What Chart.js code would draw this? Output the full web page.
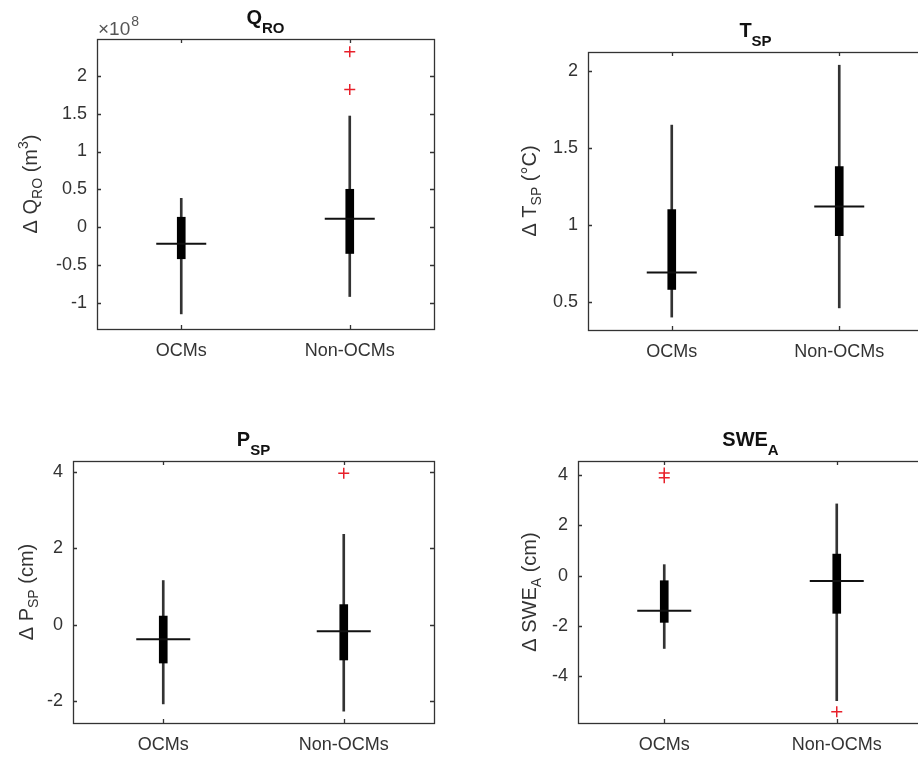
<!DOCTYPE html>
<html>
<head>
<meta charset="utf-8">
<script src="https://cdn.jsdelivr.net/npm/chart.js@4.4.0/dist/chart.umd.min.js"></script>
<style>
  html, body { margin: 0; padding: 0; background: #fff; width: 918px; height: 759px; overflow: hidden; }
  canvas { position: absolute; }
</style>
</head>
<body>
<canvas id="qro" width="459" height="380" style="left:0;top:0"></canvas>
<canvas id="tsp" width="480" height="380" style="left:459px;top:0"></canvas>
<canvas id="psp" width="459" height="379" style="left:0;top:380px"></canvas>
<canvas id="swe" width="480" height="379" style="left:459px;top:380px"></canvas>
<script>
const groups = ['OCMs', 'Non-OCMs'];

// Q_RO change (m^3)
const qroLow = [-1.15e8, -0.92e8];
const qroQ1 = [-0.42e8, -0.35e8];
const qroMedian = [-0.22e8, 0.11e8];
const qroQ3 = [0.13e8, 0.50e8];
const qroHigh = [0.38e8, 1.47e8];
const qroOutliers = [[], [1.82e8, 2.32e8]];
const qroTicks = [-1e8, -0.5e8, 0, 0.5e8, 1e8, 1.5e8, 2e8];

// T_SP change (°C)
const tspLow = [0.40, 0.46];
const tspQ1 = [0.58, 0.93];
const tspMedian = [0.69, 1.12];
const tspQ3 = [1.10, 1.38];
const tspHigh = [1.65, 2.04];
const tspOutliers = [[], []];
const tspTicks = [0.5, 1, 1.5, 2];

// P_SP change (cm)
const pspLow = [-2.07, -2.26];
const pspQ1 = [-1.0, -0.92];
const pspMedian = [-0.38, -0.17];
const pspQ3 = [0.23, 0.53];
const pspHigh = [1.16, 2.37];
const pspOutliers = [[], [3.97]];
const pspTicks = [-2, 0, 2, 4];

// SWE_A change (cm)
const sweLow = [-2.90, -4.98];
const sweQ1 = [-1.86, -1.50];
const sweMedian = [-1.40, -0.21];
const sweQ3 = [-0.20, 0.86];
const sweHigh = [0.44, 2.86];
const sweOutliers = [[4.09, 3.90], [-5.42]];
const sweTicks = [-4, -2, 0, 2, 4];

const FONT = 'Liberation Sans, Arial, Helvetica, sans-serif';
const INK = '#333';

function drawRich(ctx, parts, x, y) {
  let total = 0;
  parts.forEach(function (p) {
    ctx.font = p.font;
    p.w = ctx.measureText(p.text).width;
    total += p.w;
  });
  let cx = x - total / 2;
  ctx.textAlign = 'left';
  ctx.textBaseline = 'alphabetic';
  parts.forEach(function (p) {
    ctx.font = p.font;
    ctx.fillText(p.text, cx, y + (p.dy || 0));
    cx += p.w;
  });
}

const panelFrame = {
  id: 'panelFrame',
  afterDraw(chart, args, opts) {
    const ctx = chart.ctx;
    const a = chart.chartArea;
    const xs = chart.scales.x;
    const ys = chart.scales.y;
    ctx.save();
    ctx.strokeStyle = INK;
    ctx.lineWidth = 1.3;
    ctx.strokeRect(Math.round(a.left) + 0.5, Math.round(a.top) + 0.5, Math.round(a.right - a.left), Math.round(a.bottom - a.top));
    ctx.beginPath();
    ys.ticks.forEach(function (t) {
      const py = Math.round(ys.getPixelForValue(t.value)) + 0.5;
      ctx.moveTo(a.left, py); ctx.lineTo(a.left + 4, py);
      ctx.moveTo(a.right, py); ctx.lineTo(a.right - 4, py);
    });
    xs.ticks.forEach(function (t, i) {
      const px = Math.round(xs.getPixelForTick(i)) + 0.5;
      ctx.moveTo(px, a.top); ctx.lineTo(px, a.top + 4);
      ctx.moveTo(px, a.bottom); ctx.lineTo(px, a.bottom - 4);
    });
    ctx.stroke();

    ctx.fillStyle = '#111';
    const cx = (a.left + a.right) / 2;
    drawRich(ctx, [
      { text: opts.title, font: 'bold 20px ' + FONT },
      { text: opts.titleSub, font: 'bold 15px ' + FONT, dy: 9 }
    ], cx, a.top - 15);

    ctx.fillStyle = INK;
    ctx.translate(opts.labelX, (a.top + a.bottom) / 2);
    ctx.rotate(-Math.PI / 2);
    drawRich(ctx, opts.label, 0, 0);
    ctx.restore();

    if (opts.exponent) {
      ctx.save();
      ctx.fillStyle = '#555';
      ctx.textAlign = 'left';
      ctx.textBaseline = 'alphabetic';
      ctx.font = '19px ' + FONT;
      ctx.fillText('\u00d710', a.left + 1, a.top - 4);
      const w = ctx.measureText('\u00d710').width;
      ctx.font = '14px ' + FONT;
      ctx.fillText(opts.exponent, a.left + 2 + w, a.top - 13);
      ctx.restore();
    }
  }
};

function makePanel(id, d, p) {
  const outlierPoints = [];
  d.outliers.forEach(function (list, i) {
    list.forEach(function (v) { outlierPoints.push({ x: groups[i], y: v }); });
  });
  return new Chart(document.getElementById(id), {
    type: 'bar',
    data: {
      labels: groups,
      datasets: [
        {
          type: 'line', data: outlierPoints, showLine: false, order: 0,
          pointStyle: 'cross', pointRadius: 5.5, pointHoverRadius: 5.5,
          pointBorderColor: '#e8202a', pointBorderWidth: 1.5
        },
        {
          type: 'line', data: d.median, showLine: false, order: 1,
          pointStyle: 'line', pointRadius: p.medianRadius, pointHoverRadius: p.medianRadius,
          pointBorderColor: '#111', pointBorderWidth: 2
        },
        {
          type: 'bar', order: 2, grouped: false, barThickness: 8,
          data: d.q1.map(function (v, i) { return [v, d.q3[i]]; }),
          backgroundColor: '#000', borderWidth: 0
        },
        {
          type: 'bar', order: 3, grouped: false, barThickness: 2,
          data: d.low.map(function (v, i) { return [v, d.high[i]]; }),
          backgroundColor: '#333', borderWidth: 0
        }
      ]
    },
    options: {
      responsive: false,
      animation: false,
      devicePixelRatio: 1,
      layout: { autoPadding: false, padding: { top: p.top, right: p.right, left: 0, bottom: 0 } },
      plugins: {
        legend: { display: false },
        tooltip: { enabled: false },
        panelFrame: p.text
      },
      scales: {
        x: {
          grid: { display: false, drawTicks: false },
          border: { display: false },
          ticks: { color: INK, font: { family: FONT, size: 18 }, padding: 11, maxRotation: 0 },
          afterFit: function (scale) {
            scale.height = p.xHeight;
            scale.paddingLeft = 0;
            scale.paddingRight = 0;
          }
        },
        y: {
          min: p.min, max: p.max,
          grid: { display: false, drawTicks: false },
          border: { display: false },
          ticks: {
            color: INK, font: { family: FONT, size: 18 }, padding: 10,
            callback: p.format || function (v) { return String(v); }
          },
          afterBuildTicks: function (scale) {
            scale.ticks = d.ticks.map(function (v) { return { value: v }; });
          },
          afterFit: function (scale) {
            scale.width = p.yWidth;
            scale.paddingTop = 0;
            scale.paddingBottom = 0;
          }
        }
      }
    },
    plugins: [panelFrame]
  });
}

function label(main, sub, unit, sup) {
  const parts = [
    { text: '\u0394 ' + main, font: '20px ' + FONT },
    { text: sub, font: '14px ' + FONT, dy: 5 },
    { text: ' (' + unit, font: '20px ' + FONT }
  ];
  if (sup) {
    parts.push({ text: sup, font: '14px ' + FONT, dy: -9 });
  }
  parts.push({ text: ')', font: '20px ' + FONT });
  return parts;
}

makePanel('qro',
  { low: qroLow, q1: qroQ1, median: qroMedian, q3: qroQ3, high: qroHigh, outliers: qroOutliers, ticks: qroTicks },
  {
    top: 39, right: 25, yWidth: 97, xHeight: 51, min: -1.35e8, max: 2.49e8, medianRadius: 25,
    format: function (v) { return String(Math.round(v / 1e7) / 10); },
    text: { title: 'Q', titleSub: 'RO', labelX: 37, label: label('Q', 'RO', 'm', '3'), exponent: '8' }
  });

makePanel('tsp',
  { low: tspLow, q1: tspQ1, median: tspMedian, q3: tspQ3, high: tspHigh, outliers: tspOutliers, ticks: tspTicks },
  {
    top: 52, right: 16, yWidth: 129, xHeight: 50, min: 0.316, max: 2.126, medianRadius: 25,
    text: { title: 'T', titleSub: 'SP', labelX: 77, label: label('T', 'SP', '\u00b0C') }
  });

makePanel('psp',
  { low: pspLow, q1: pspQ1, median: pspMedian, q3: pspQ3, high: pspHigh, outliers: pspOutliers, ticks: pspTicks },
  {
    top: 81, right: 25, yWidth: 73, xHeight: 36, min: -2.57, max: 4.29, medianRadius: 27,
    text: { title: 'P', titleSub: 'SP', labelX: 33, label: label('P', 'SP', 'cm') }
  });

makePanel('swe',
  { low: sweLow, q1: sweQ1, median: sweMedian, q3: sweQ3, high: sweHigh, outliers: sweOutliers, ticks: sweTicks },
  {
    top: 81, right: 16, yWidth: 119, xHeight: 36, min: -5.87, max: 4.57, medianRadius: 27,
    text: { title: 'SWE', titleSub: 'A', labelX: 77, label: label('SWE', 'A', 'cm') }
  });
</script>
</body>
</html>
